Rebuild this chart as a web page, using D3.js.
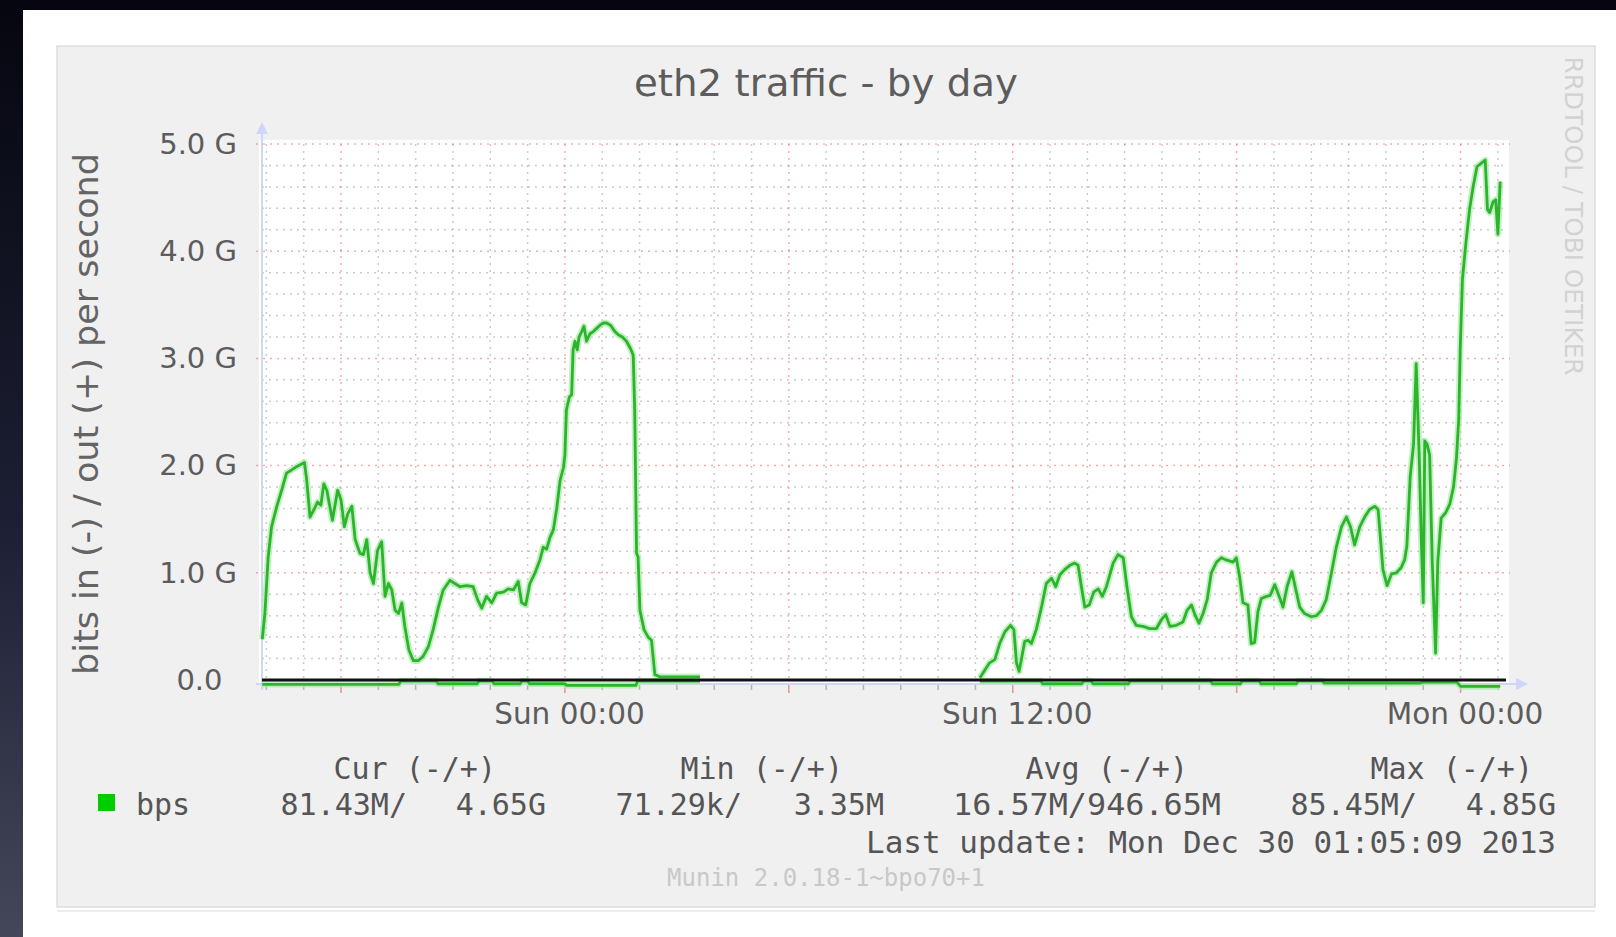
<!DOCTYPE html>
<html><head><meta charset="utf-8">
<script src="https://cdn.jsdelivr.net/npm/d3@7/dist/d3.min.js"></script>
<style>html,body{margin:0;padding:0;background:#fff;overflow:hidden}</style>
</head><body>
<svg id="c" width="1616" height="937"></svg>
<script>
// ---------- data ----------
const title = "eth2 traffic - by day";
const yAxisTitle = "bits in (-) / out (+) per second";
const yTickValues = [0, 1, 2, 3, 4, 5];
const yTickLabels = ["0.0", "1.0 G", "2.0 G", "3.0 G", "4.0 G", "5.0 G"];
const xTickTimes = ["2013-12-29T00:00", "2013-12-29T12:00", "2013-12-30T00:00"];
const xTickLabels = ["Sun 00:00", "Sun 12:00", "Mon 00:00"];
const rangeStart = "2013-12-28T15:53";
const rangeEnd = "2013-12-30T01:13";
const baseTime = "2013-12-28T00:00"; // hours below are counted from this moment

// out (+), Gbit/s; null = no data
const outHours = [
 15.89,15.96,16.05,16.14,16.28,16.41,16.54,16.68,16.81,17.02,17.08,17.17,17.29,17.37,17.46,17.54,17.62,17.77,17.91,18.00,
 18.09,18.18,18.29,18.38,18.51,18.60,18.69,18.78,18.87,18.98,19.09,19.18,19.27,19.36,19.45,19.54,19.63,19.71,19.82,19.94,
 20.07,20.20,20.34,20.47,20.61,20.74,20.92,21.05,21.19,21.37,21.54,21.66,21.77,21.90,22.04,22.17,22.35,22.48,22.62,22.75,
 22.84,22.95,23.06,23.20,23.33,23.42,23.51,23.60,23.69,23.78,23.87,23.96,24.00,24.04,24.12,24.18,24.22,24.27,24.33,24.38,
 24.45,24.51,24.58,24.67,24.76,24.85,24.94,25.03,25.12,25.22,25.34,25.43,25.54,25.65,25.76,25.83,25.87,25.92,25.96,26.01,
 26.12,26.23,26.32,26.41,26.54,27.62,27.70,
 35.12,35.25,35.38,35.52,35.65,35.79,35.94,36.03,36.10,36.17,36.23,36.32,36.41,36.50,36.63,36.77,36.90,37.04,37.15,37.26,
 37.39,37.53,37.66,37.75,37.84,37.93,38.05,38.17,38.29,38.40,38.51,38.60,38.69,38.82,38.96,39.06,39.18,39.31,39.49,39.67,
 39.85,39.98,40.10,40.21,40.38,40.56,40.67,40.79,40.88,40.99,41.10,41.21,41.32,41.46,41.59,41.72,41.90,41.99,42.08,42.17,
 42.30,42.39,42.48,42.57,42.66,42.80,42.90,43.02,43.14,43.24,43.35,43.48,43.58,43.69,43.82,44.00,44.14,44.27,44.40,44.54,
 44.67,44.81,44.94,45.05,45.16,45.30,45.43,45.56,45.70,45.79,45.92,46.03,46.15,46.28,46.41,46.50,46.56,46.65,46.74,46.81,
 46.89,46.95,47.00,47.04,47.10,47.17,47.24,47.33,47.39,47.48,47.60,47.71,47.81,47.89,47.95,47.99,48.05,48.14,48.24,48.33,
 48.44,48.55,48.66,48.72,48.78,48.87,48.94,49.00,49.06
];
const outValues = [
 0.38,0.62,1.15,1.43,1.62,1.77,1.93,1.96,1.99,2.03,1.87,1.52,1.60,1.66,1.63,1.83,1.77,1.49,1.77,1.68,
 1.43,1.55,1.62,1.31,1.18,1.17,1.31,1.00,0.90,1.21,1.29,0.78,0.90,0.84,0.65,0.62,0.72,0.50,0.28,0.18,
 0.18,0.22,0.31,0.47,0.68,0.84,0.93,0.90,0.87,0.88,0.87,0.75,0.67,0.78,0.72,0.81,0.82,0.85,0.84,0.92,
 0.72,0.70,0.90,1.00,1.12,1.24,1.22,1.33,1.40,1.60,1.86,1.98,2.10,2.52,2.64,2.66,3.08,3.16,3.08,3.20,
 3.25,3.30,3.16,3.23,3.25,3.28,3.31,3.33,3.33,3.31,3.25,3.22,3.20,3.16,3.09,3.03,2.52,1.18,1.15,0.65,
 0.47,0.40,0.37,0.05,0.03,0.03,null,
 0.02,0.09,0.16,0.19,0.34,0.45,0.51,0.47,0.16,0.08,0.19,0.36,0.37,0.34,0.47,0.68,0.90,0.95,0.87,0.98,
 1.03,1.07,1.09,1.07,0.87,0.68,0.70,0.82,0.85,0.78,0.87,0.98,1.09,1.17,1.14,0.87,0.59,0.51,0.50,0.48,
 0.48,0.56,0.61,0.50,0.51,0.54,0.65,0.70,0.61,0.53,0.62,0.75,1.00,1.10,1.14,1.12,1.10,1.14,0.96,0.72,
 0.70,0.34,0.35,0.64,0.76,0.78,0.79,0.89,0.78,0.68,0.87,1.01,0.85,0.68,0.62,0.59,0.60,0.65,0.75,1.00,
 1.24,1.43,1.52,1.43,1.26,1.43,1.52,1.59,1.62,1.59,1.03,0.88,0.99,1.00,1.05,1.12,1.25,1.90,2.20,2.95,
 2.10,1.28,0.72,2.23,2.20,2.10,1.11,0.25,1.11,1.51,1.56,1.64,1.80,2.07,2.43,3.08,3.74,4.07,4.39,4.59,
 4.79,4.82,4.85,4.39,4.36,4.46,4.48,4.16,4.65
];

// in (-), Gbit/s magnitude; null = no data
const inHours = [
 15.89,19.55,19.60,20.55,20.60,21.65,21.70,22.05,22.10,22.80,22.85,23.00,23.05,24.00,24.05,25.90,25.95,27.62,27.70,
 35.12,36.75,36.80,37.85,37.90,38.10,38.15,39.10,39.15,41.30,41.35,42.10,42.15,42.60,42.65,43.60,43.65,44.30,44.35,
 46.90,47.00,47.90,48.00,49.06
];
const inValues = [
 0.04,0.04,0.01,0.01,0.035,0.035,0.01,0.01,0.035,0.035,0.01,0.01,0.035,0.035,0.05,0.05,0.01,0.01,null,
 0.01,0.01,0.035,0.035,0.01,0.01,0.035,0.035,0.01,0.01,0.035,0.035,0.01,0.01,0.035,0.035,0.01,0.01,0.03,
 0.03,0.02,0.02,0.06,0.06
];

const legendName = "bps";
const statHeaders = ["Cur (-/+)", "Min (-/+)", "Avg (-/+)", "Max (-/+)"];
const statIn = ["81.43M", "71.29k", "16.57M", "85.45M"];
const statOut = ["4.65G", "3.35M", "946.65M", "4.85G"];
const lastUpdate = "Last update: Mon Dec 30 01:05:09 2013";
const versionText = "Munin 2.0.18-1~bpo70+1";
const watermark = "RRDTOOL / TOBI OETIKER";

// ---------- drawing ----------
const svg = d3.select("#c");
const parse = d3.timeParse("%Y-%m-%dT%H:%M");
const base = parse(baseTime);
const tAt = h => new Date(base.getTime() + h * 3600e3);

const x = d3.scaleTime().domain([parse(rangeStart), parse(rangeEnd)]).range([262, 1506]);
const y = d3.scaleLinear().domain([0, 5]).range([680, 144]);

// page background
const defs = svg.append("defs");
const g1 = defs.append("linearGradient").attr("id", "side").attr("x1", 0).attr("y1", 0).attr("x2", 0).attr("y2", 1);
g1.append("stop").attr("offset", "0%").attr("stop-color", "#05060f");
g1.append("stop").attr("offset", "55%").attr("stop-color", "#1c1f33");
g1.append("stop").attr("offset", "100%").attr("stop-color", "#44475a");
svg.append("rect").attr("width", 1616).attr("height", 937).attr("fill", "#05060f");
svg.append("rect").attr("x", 0).attr("y", 0).attr("width", 23).attr("height", 937).attr("fill", "url(#side)");
svg.append("rect").attr("x", 23).attr("y", 10).attr("width", 1593).attr("height", 927).attr("fill", "#ffffff");

// munin grey box
svg.append("rect").attr("x", 57).attr("y", 46).attr("width", 1538).attr("height", 861)
  .attr("fill", "#f0f0f0").attr("stroke", "#dedede").attr("stroke-width", 1.5);
svg.append("line").attr("x1", 57).attr("x2", 1595).attr("y1", 911).attr("y2", 911)
  .attr("stroke", "#ececec").attr("stroke-width", 2);

// canvas
svg.append("rect").attr("x", 259).attr("y", 140).attr("width", 1250).attr("height", 544).attr("fill", "#ffffff");

const grid = svg.append("g");
const [d0, d1] = x.domain();
const hours = d3.timeHour.every(1).range(d0, d1);
const minorY = d3.range(0, 5.001, 0.2);
// minor grid
grid.selectAll(".vmin").data(hours.filter(d => d.getHours() % 6 !== 0)).join("line")
  .attr("x1", d => x(d)).attr("x2", d => x(d)).attr("y1", y(5)).attr("y2", y(0))
  .attr("stroke", "rgba(140,140,140,0.45)").attr("stroke-width", 1.5).attr("stroke-dasharray", "2,5");
grid.selectAll(".hmin").data(minorY.filter(v => Math.abs(v - Math.round(v)) > 1e-6)).join("line")
  .attr("x1", 262).attr("x2", 1506).attr("y1", d => y(d)).attr("y2", d => y(d))
  .attr("stroke", "rgba(140,140,140,0.45)").attr("stroke-width", 1.5).attr("stroke-dasharray", "2,5");
// major grid
grid.selectAll(".vmaj").data(hours.filter(d => d.getHours() % 6 === 0)).join("line")
  .attr("x1", d => x(d)).attr("x2", d => x(d)).attr("y1", y(5)).attr("y2", y(0))
  .attr("stroke", "rgba(225,110,110,0.55)").attr("stroke-width", 1.5).attr("stroke-dasharray", "2,5");
grid.selectAll(".hmaj").data(yTickValues.filter(v => v > 0)).join("line")
  .attr("x1", 256).attr("x2", 1510).attr("y1", d => y(d)).attr("y2", d => y(d))
  .attr("stroke", "rgba(225,110,110,0.55)").attr("stroke-width", 1.5).attr("stroke-dasharray", "2,5");

// axes lines / arrows (munin AXIS/ARROW colour)
const axisCol = "#cfd6f8";
svg.append("line").attr("x1", 262).attr("x2", 262).attr("y1", 690).attr("y2", 132)
  .attr("stroke", axisCol).attr("stroke-width", 2);
svg.append("path").attr("d", "M262,122 L256,134 L268,134 Z").attr("fill", axisCol);
svg.append("line").attr("x1", 256).attr("x2", 1516).attr("y1", 684).attr("y2", 684)
  .attr("stroke", axisCol).attr("stroke-width", 2);
svg.append("path").attr("d", "M1528,684 L1516,678 L1516,690 Z").attr("fill", axisCol);
// x ticks
svg.selectAll(".xt").data(hours).join("line")
  .attr("x1", d => x(d)).attr("x2", d => x(d)).attr("y1", 685).attr("y2", d => d.getHours() % 6 === 0 ? 693 : 690)
  .attr("stroke", d => d.getHours() % 6 === 0 ? "rgba(225,110,110,0.7)" : "rgba(140,140,140,0.6)")
  .attr("stroke-width", 1.5);

// series
const outData = outHours.map((h, i) => ({ t: tAt(h), v: outValues[i] }));
const inData = inHours.map((h, i) => ({ t: tAt(h), v: inValues[i] == null ? null : -inValues[i] }));
const line = d3.line().defined(d => d.v != null).x(d => x(d.t)).y(d => y(d.v));

[inData, outData].forEach(data => {
  svg.append("path").attr("d", line(data)).attr("fill", "none")
    .attr("stroke", "#a8eaa8").attr("stroke-width", 6.5).attr("stroke-linejoin", "round").attr("opacity", 0.7);
  svg.append("path").attr("d", line(data)).attr("fill", "none")
    .attr("stroke", "#2cb42c").attr("stroke-width", 2.8).attr("stroke-linejoin", "round");
});

// zero rule
svg.append("line").attr("x1", x(d0)).attr("x2", x(d1)).attr("y1", y(0)).attr("y2", y(0))
  .attr("stroke", "#111").attr("stroke-width", 3);

// axes text
const font = "DejaVu Sans, sans-serif";
const textCol = "#5c5c5c";
const yAxis = d3.axisLeft(y).tickValues(yTickValues)
  .tickFormat((d, i) => d === 0 ? yTickLabels[i] + "\u2002" : yTickLabels[i]).tickSize(0).tickPadding(0);
const gy = svg.append("g").attr("transform", "translate(237,0)").call(yAxis);
gy.select(".domain").remove();
gy.selectAll("text").attr("font-family", font).attr("font-size", 29).attr("fill", textCol);

const xAxis = d3.axisBottom(x).tickValues(xTickTimes.map(parse))
  .tickFormat((d, i) => xTickLabels[i]).tickSize(0).tickPadding(0);
const gx = svg.append("g").attr("transform", "translate(4,703)").call(xAxis);
gx.select(".domain").remove();
gx.selectAll("text").attr("font-family", font).attr("font-size", 29.5).attr("fill", textCol);

// title
svg.append("text").attr("x", 826).attr("y", 96).attr("text-anchor", "middle")
  .attr("font-family", font).attr("font-size", 38).attr("fill", textCol)
  .attr("textLength", 384).attr("lengthAdjust", "spacingAndGlyphs").text(title);

// y-axis title
svg.append("text").attr("transform", "translate(98,414) rotate(-90)").attr("text-anchor", "middle")
  .attr("font-family", font).attr("font-size", 33).attr("fill", "#646464")
  .attr("textLength", 522).attr("lengthAdjust", "spacingAndGlyphs").text(yAxisTitle);

// watermark
svg.append("text").attr("transform", "translate(1565,216) rotate(90)").attr("text-anchor", "middle")
  .attr("font-family", font).attr("font-size", 24).attr("fill", "#d2d2d2")
  .attr("textLength", 319).attr("lengthAdjust", "spacingAndGlyphs").text(watermark);

// legend
const mono = "DejaVu Sans Mono, monospace";
const headerEnd = [496, 843, 1188, 1533];
const inEnd = [407, 742, null, 1417];
const outEnd = [546, 884, 1221, 1556];
const lg = svg.append("g").attr("font-family", mono).attr("font-size", 30).attr("fill", "#555");
statHeaders.forEach((s, i) => {
  lg.append("text").attr("x", headerEnd[i]).attr("y", 779).attr("text-anchor", "end").text(s);
  if (inEnd[i] == null) {
    lg.append("text").attr("x", outEnd[i]).attr("y", 815).attr("text-anchor", "end")
      .attr("textLength", 268).attr("lengthAdjust", "spacingAndGlyphs")
      .text(statIn[i] + "/" + statOut[i]);
  } else {
    lg.append("text").attr("x", inEnd[i]).attr("y", 815).attr("text-anchor", "end").text(statIn[i] + "/");
    lg.append("text").attr("x", outEnd[i]).attr("y", 815).attr("text-anchor", "end").text(statOut[i]);
  }
});
svg.append("rect").attr("x", 98).attr("y", 794).attr("width", 17).attr("height", 17).attr("fill", "#00cc00");
lg.append("text").attr("x", 136).attr("y", 815).text(legendName);
lg.append("text").attr("x", 1556).attr("y", 853).attr("text-anchor", "end")
  .attr("textLength", 690).attr("lengthAdjust", "spacingAndGlyphs").text(lastUpdate);
svg.append("text").attr("x", 826).attr("y", 886).attr("text-anchor", "middle")
  .attr("font-family", mono).attr("font-size", 24).attr("fill", "#c8c8c8").text(versionText);
</script>
</body></html>
